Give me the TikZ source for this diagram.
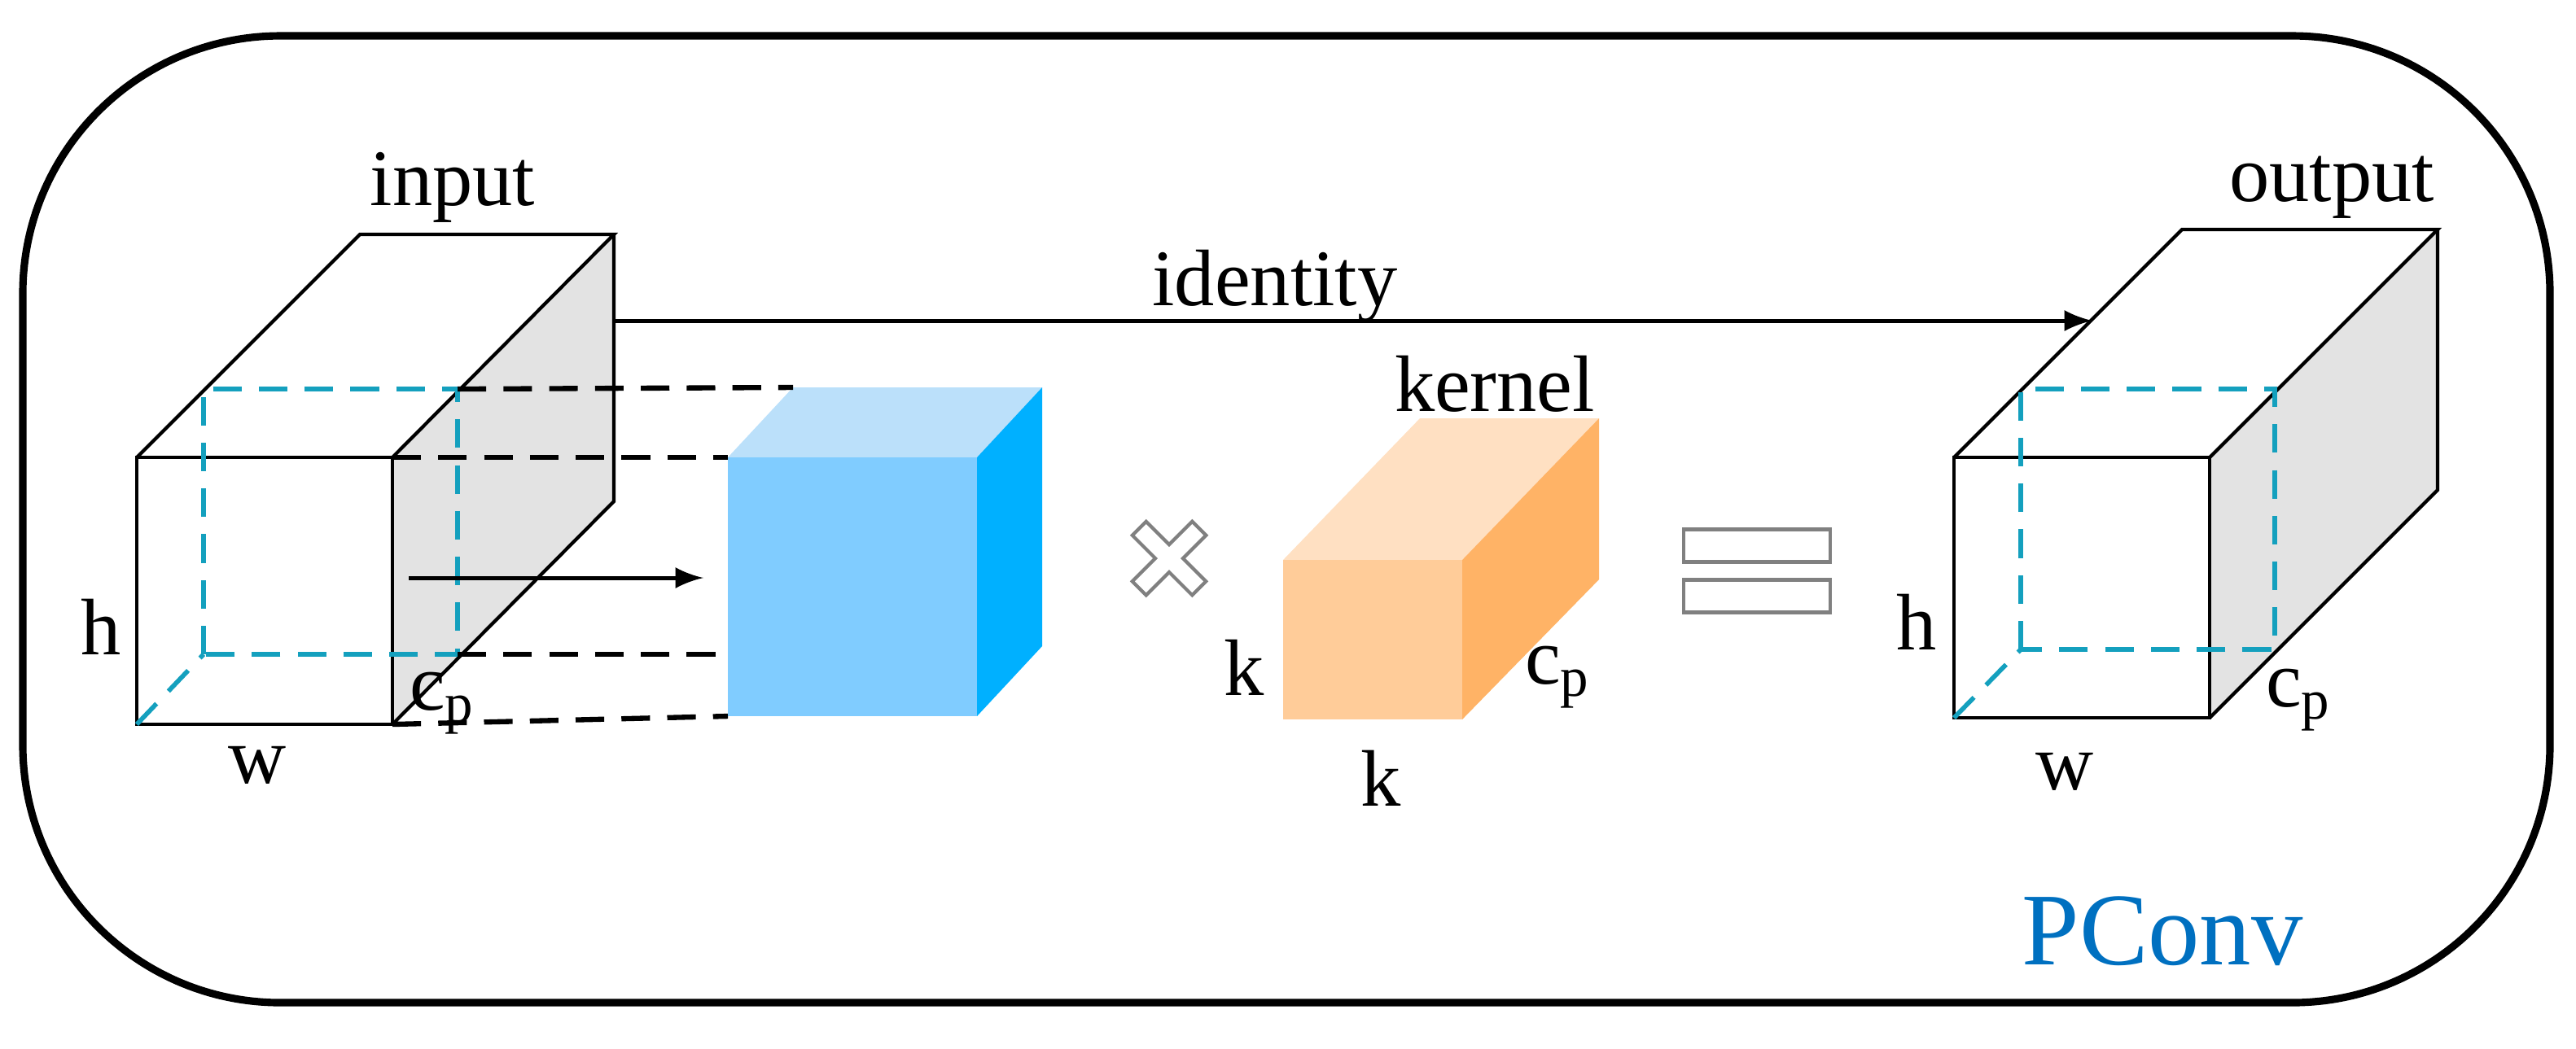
\documentclass[tikz,border=0pt]{standalone}
\usepackage{fontspec}
\setmainfont{Liberation Serif}
\begin{document}
\begin{tikzpicture}[x=0.01cm,y=-0.01cm,
  lbl/.style={font=\fontsize{14}{16}\selectfont,inner sep=0pt},
  edge/.style={line width=0.6pt},
  cyan dash/.style={draw={rgb,255:red,20;green,160;blue,190},line width=0.8pt,dash pattern=on 5pt off 3pt},
  blk dash/.style={draw=black,line width=0.9pt,dash pattern=on 5pt off 3pt},
  arr/.style={line width=0.7pt,-latex}]
\useasboundingbox (0,0) rectangle (1582,644);
\draw[line width=1.3pt,rounded corners=45] (14,22) rectangle (1566,616);
% ---- input cube
\coordinate (iA) at (84,281); \coordinate (iB) at (241,281);
\coordinate (iC) at (241,445); \coordinate (iD) at (84,445);
\coordinate (iE) at (221,144); \coordinate (iF) at (377,144);
\coordinate (iG) at (377,308);
\fill[gray!22] (iB) -- (iF) -- (iG) -- (iC) -- cycle;
\draw[edge] (iA) -- (iB) -- (iC) -- (iD) -- cycle;
\draw[edge] (iA) -- (iE) -- (iF) -- (iB);
\draw[edge] (iF) -- (iG) -- (iC);
\coordinate (ic1) at (125,239); \coordinate (ic2) at (281,239);
\coordinate (ic3) at (281,402); \coordinate (ic4) at (125,402);
\draw[cyan dash] (iD) -- (ic4);
\draw[cyan dash] (ic4) -- (ic1) -- (ic2) -- (ic3) -- cycle;
% ---- blue cube
\coordinate (bA) at (447,281); \coordinate (bB) at (600,281);
\coordinate (bC) at (600,440); \coordinate (bD) at (447,440);
\coordinate (bE) at (487,238); \coordinate (bF) at (640,238);
\coordinate (bG) at (640,397);
\fill[fill={rgb,255:red,187;green,224;blue,250}] (bA) -- (bE) -- (bF) -- (bB) -- cycle;
\fill[fill={rgb,255:red,0;green,176;blue,255}] (bB) -- (bF) -- (bG) -- (bC) -- cycle;
\fill[fill={rgb,255:red,128;green,204;blue,255}] (bA) -- (bB) -- (bC) -- (bD) -- cycle;
\coordinate (bL) at (447,402);
\draw[blk dash] (ic2) -- (bE);
\draw[blk dash] (iB) -- (bA);
\draw[blk dash] (ic3) -- (bL);
\draw[blk dash] (iC) -- (bD);
\coordinate (as) at (251,355); \coordinate (ae) at (432,355);
\draw[arr] (as) -- (ae);
% labels input
\node[lbl] (tin) at (278,115) {input};
\node[lbl] (th) at (62,385) {h};
\node[lbl] (tw) at (158,470) {w};
\node[lbl] (tcp) at (272,432) {c\textsubscript{p}};
% ---- identity
\coordinate (idS) at (377,197); \coordinate (idE) at (1285,197);
\draw[arr] (idS) -- (idE);
\node[lbl] (tid) at (783,176) {identity};
% ---- times
\draw[gray,line width=0.6pt,shift={(718,343)},rotate=45]
  (-6,-26) -- (6,-26) -- (6,-6) -- (26,-6) -- (26,6) -- (6,6) -- (6,26) -- (-6,26) -- (-6,6) -- (-26,6) -- (-26,-6) -- (-6,-6) -- cycle;
% ---- kernel
\coordinate (kA) at (788,344); \coordinate (kB) at (898,344);
\coordinate (kC) at (898,442); \coordinate (kD) at (788,442);
\coordinate (kE) at (872,257); \coordinate (kF) at (982,257);
\coordinate (kG) at (982,356);
\fill[fill={rgb,255:red,255;green,224;blue,194}] (kA) -- (kE) -- (kF) -- (kB) -- cycle;
\fill[fill={rgb,255:red,255;green,179;blue,102}] (kB) -- (kF) -- (kG) -- (kC) -- cycle;
\fill[fill={rgb,255:red,255;green,204;blue,153}] (kA) -- (kB) -- (kC) -- (kD) -- cycle;
\node[lbl] (tk) at (918,236) {kernel};
\node[lbl] (tk1) at (764,410) {k};
\node[lbl] (tk2) at (848,478) {k};
\node[lbl] (tk3) at (957,416) {c\textsubscript{p}};
% ---- equals
\draw[gray,line width=0.7pt] (1034,325) rectangle (1124,345);
\draw[gray,line width=0.7pt] (1034,356) rectangle (1124,376);
% ---- output cube
\coordinate (oA) at (1200,281); \coordinate (oB) at (1357,281);
\coordinate (oC) at (1357,441); \coordinate (oD) at (1200,441);
\coordinate (oE) at (1340,141); \coordinate (oF) at (1497,141);
\coordinate (oG) at (1497,301);
\fill[gray!22] (oB) -- (oF) -- (oG) -- (oC) -- cycle;
\draw[edge] (oA) -- (oB) -- (oC) -- (oD) -- cycle;
\draw[edge] (oA) -- (oE) -- (oF) -- (oB);
\draw[edge] (oF) -- (oG) -- (oC);
\coordinate (oc1) at (1241,239); \coordinate (oc2) at (1397,239);
\coordinate (oc3) at (1397,399); \coordinate (oc4) at (1241,399);
\draw[cyan dash] (oD) -- (oc4);
\draw[cyan dash] (oc4) -- (oc1) -- (oc2) -- (oc3) -- cycle;
\node[lbl] (tout) at (1432,115) {output};
\node[lbl] (toh) at (1177,382) {h};
\node[lbl] (tow) at (1268,474) {w};
\node[lbl] (tocp) at (1412,430) {c\textsubscript{p}};
\node[inner sep=0pt,font=\fontsize{18}{20}\selectfont,text={rgb,255:red,0;green,112;blue,192}] (tp) at (1328,572) {PConv};
\end{tikzpicture}
\end{document}
